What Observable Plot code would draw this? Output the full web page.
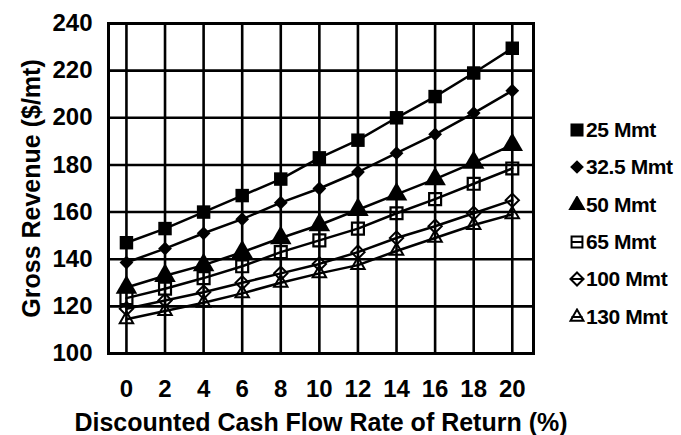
<!DOCTYPE html>
<html>
<head>
<meta charset="utf-8">
<script src="https://cdn.jsdelivr.net/npm/d3@7"></script>
<script src="https://cdn.jsdelivr.net/npm/@observablehq/plot@0.6"></script>
<style>
  html, body { margin: 0; padding: 0; background: #fff; }
  #wrap { position: relative; width: 681px; height: 435px; }
  #legend { position: absolute; left: 568px; top: 111.5px; font-family: "Liberation Sans", Arial, sans-serif; font-weight: bold; font-size: 21px; letter-spacing: -0.4px; color: #000; }
  .item { display: flex; align-items: center; height: 37.3px; white-space: nowrap; }
  .item svg { margin-right: 0px; flex: none; }
</style>
</head>
<body>
<div id="wrap"><div id="legend"></div></div>
<script>
// ---- data ----
const rates = [0, 2, 4, 6, 8, 10, 12, 14, 16, 18, 20];
const seriesNames = ["25 Mmt", "32.5 Mmt", "50 Mmt", "65 Mmt", "100 Mmt", "130 Mmt"];
const rev25  = [147, 153, 160, 167, 174, 183, 190.5, 200, 209, 219, 229.5];
const rev325 = [138.6, 144.5, 151, 157, 164, 170, 177, 185, 193, 202, 211.5];
const rev50  = [128, 133, 137.5, 143, 149, 154.5, 161, 167.5, 174, 181, 188.5];
const rev65  = [123.5, 127.5, 132, 137, 143, 148, 153, 159.5, 165.5, 172, 178.5];
const rev100 = [119, 122.5, 126, 130, 134, 138, 143, 149, 154, 159.5, 165];
const rev130 = [114.5, 118, 121.5, 125.5, 130, 134, 137.5, 143.5, 149, 154.5, 159];
const yTicks = [100, 120, 140, 160, 180, 200, 220, 240];
const xTicks = [0, 2, 4, 6, 8, 10, 12, 14, 16, 18, 20];
const xLabel = "Discounted Cash Flow Rate of Return (%)";
const yLabel = "Gross Revenue ($/mt)";

const allSeries = [rev25, rev325, rev50, rev65, rev100, rev130];
const table = allSeries.flatMap((vals, i) => vals.map((v, j) => ({series: seriesNames[i], rate: rates[j], rev: v})));
const of = name => table.filter(d => d.series === name);

const chart = Plot.plot({
  width: 681,
  height: 435,
  marginLeft: 108,
  marginRight: 148,
  marginTop: 23,
  marginBottom: 82,
  x: {domain: [-0.93, 21.1]},
  y: {domain: [100, 240]},
  style: {fontFamily: "'Liberation Sans', Arial, sans-serif", fontWeight: "bold", color: "black", background: "white"},
  marks: [
    Plot.ruleY(yTicks, {strokeWidth: 2.6}),
    Plot.ruleX(xTicks, {strokeWidth: 2.6}),
    Plot.frame({strokeWidth: 3}),
    Plot.axisY(yTicks, {tickSize: 0, tickPadding: 16, fontSize: 24, label: null}),
    Plot.axisY([], {label: yLabel, fontSize: 25, labelAnchor: "center", labelArrow: "none", labelOffset: 86}),
    Plot.axisX(xTicks, {tickSize: 0, tickPadding: 26, fontSize: 24, label: null}),
    Plot.axisX([], {label: xLabel, fontSize: 25, labelAnchor: "center", labelArrow: "none", labelOffset: 77}),
    Plot.line(table, {x: "rate", y: "rev", z: "series", stroke: "black", strokeWidth: 2.5}),
    Plot.dot(of("25 Mmt"), {x: "rate", y: "rev", symbol: "square", r: 7.6, fill: "black"}),
    Plot.dot(of("32.5 Mmt"), {x: "rate", y: "rev", symbol: "diamond2", r: 6.2, fill: "black"}),
    Plot.dot(of("50 Mmt"), {x: "rate", y: "rev", symbol: "triangle", r: 8, fill: "black"}),
    Plot.dot(of("65 Mmt"), {x: "rate", y: "rev", symbol: "square2", r: 7.6, stroke: "black", strokeWidth: 2.2, fill: "none"}),
    Plot.dot(of("100 Mmt"), {x: "rate", y: "rev", symbol: "diamond2", r: 6, stroke: "black", strokeWidth: 2, fill: "none"}),
    Plot.dot(of("130 Mmt"), {x: "rate", y: "rev", symbol: "triangle2", r: 6.4, stroke: "black", strokeWidth: 2, fill: "none"})
  ]
});
document.getElementById("wrap").prepend(chart);

// ---- legend ----
const legendSymbols = [
  {sym: d3.symbolSquare, size: 170, fill: true, bar: false},
  {sym: d3.symbolDiamond2, size: 120, fill: true, bar: false},
  {sym: d3.symbolTriangle, size: 130, fill: true, bar: false},
  {sym: d3.symbolSquare2, size: 150, fill: false, bar: true},
  {sym: d3.symbolDiamond2, size: 110, fill: false, bar: true},
  {sym: d3.symbolTriangle2, size: 120, fill: false, bar: true}
];
const legend = d3.select("#legend");
seriesNames.forEach((name, i) => {
  const s = legendSymbols[i];
  const item = legend.append("div").attr("class", "item");
  const svg = item.append("svg").attr("width", 18).attr("height", 18);
  const g = svg.append("g").attr("transform", "translate(9,9)");
  g.append("path")
    .attr("d", d3.symbol(s.sym, s.size)())
    .attr("fill", s.fill ? "black" : "none")
    .attr("stroke", "black")
    .attr("stroke-width", s.fill ? 0 : 2);
  if (s.bar) g.append("line").attr("x1", -5.5).attr("x2", 5.5).attr("y1", 0).attr("y2", 0).attr("stroke", "black").attr("stroke-width", 2);
  item.append("span").text(name);
});
</script>
</body>
</html>
